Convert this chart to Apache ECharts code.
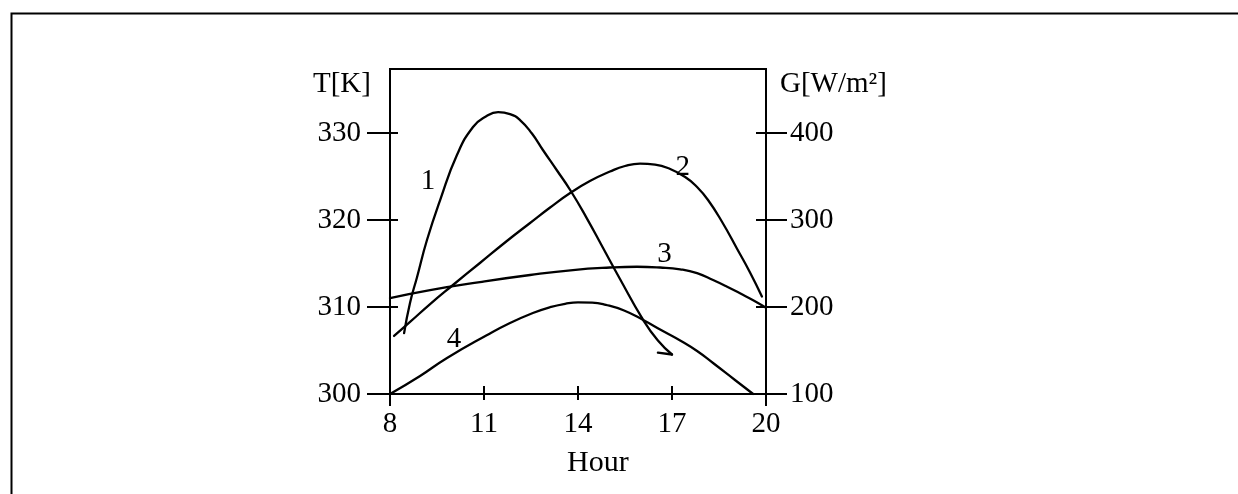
<!DOCTYPE html>
<html>
<head>
<meta charset="utf-8">
<script src="https://cdn.jsdelivr.net/npm/echarts@6/dist/echarts.min.js"></script>
<style>
  html, body { margin: 0; padding: 0; background: #fff; }
  #chart { width: 1238px; height: 494px; }
</style>
</head>
<body>
<div id="chart"></div>
<script>
// Hour of day, temperature T[K] (left axis) and irradiance G[W/m²] (right axis)
const hourTicks = [8, 11, 14, 17, 20];
const hourEdgeTicks = [8, 20];
const tempTicks = [300, 310, 320, 330];
const irrTicks = [100, 200, 300, 400];

// Curve 1: irradiance G [W/m²] against hour
const curve1 = [
  [8.45, 170], [8.64, 205], [8.86, 234], [9.18, 277], [9.60, 323], [10.14, 375],
  [10.65, 407], [11.06, 419], [11.45, 424], [11.83, 421.8], [12.15, 414.9], [12.53, 399.4],
  [12.88, 380.5], [13.33, 356.9], [13.75, 334.5], [14.26, 303.4], [14.80, 267.8], [15.34, 232.2],
  [16.08, 185.1], [16.55, 161.5], [17.0, 145.4]
];
const curve1Hook = [[17.0, 145.4], [16.55, 147.5]];

// Curves 2–4: temperature T [K] against hour
const curve2 = [
  [8.13, 306.67], [8.64, 308.28], [9.28, 310.34], [10.01, 312.53], [10.87, 315.06], [11.73, 317.59],
  [12.47, 319.66], [13.11, 321.44], [13.75, 323.10], [14.38, 324.48], [15.02, 325.57], [15.50, 326.21],
  [15.98, 326.49], [16.46, 326.38], [16.87, 325.98], [17.42, 324.94], [17.80, 323.79], [18.15, 322.30],
  [18.60, 319.77], [19.08, 316.67], [19.49, 313.97], [19.87, 311.21]
];
const curve3 = [
  [8.0, 311.03], [9.28, 311.95], [10.87, 312.87], [12.47, 313.68], [13.84, 314.25], [15.02, 314.54],
  [15.88, 314.63], [16.62, 314.54], [17.26, 314.33], [17.80, 313.89], [18.31, 313.10], [18.76, 312.33],
  [19.17, 311.57], [19.59, 310.78], [20.0, 309.92]
];
const curve4 = [
  [8.0, 300.0], [8.96, 302.07], [9.82, 304.14], [11.10, 306.78], [11.83, 308.16], [12.56, 309.31],
  [13.11, 309.98], [13.59, 310.37], [14.0, 310.54], [14.45, 310.51], [14.89, 310.25], [15.47, 309.60],
  [16.08, 308.51], [16.68, 307.30], [17.26, 306.15], [17.80, 304.94], [18.31, 303.56], [19.01, 301.61],
  [19.59, 300.0]
];

// Curve numbers, anchored in (hour, T) coordinates
const curveTags = [
  { name: '1', value: [9.21, 324.4] },
  { name: '2', value: [17.34, 326.0] },
  { name: '3', value: [16.76, 316.0] },
  { name: '4', value: [10.04, 306.3] }
];

const FONT = 'Liberation Serif';
const FS = 29;
const INK = '#000';

const tRange = { min: 300, max: 337.36, interval: 10 };
const gRange = { min: 100, max: 473.6, interval: 100 };

function lineSeries(data, yAxisIndex, smooth) {
  return {
    type: 'line',
    data: data,
    xAxisIndex: 0,
    yAxisIndex: yAxisIndex,
    smooth: smooth,
    showSymbol: false,
    symbol: 'none',
    silent: true,
    lineStyle: { color: INK, width: 2.3, cap: 'round', join: 'round' },
    z: 3
  };
}

// A value axis used only for extra tick marks (e.g. the inner half of crossing ticks)
function tickOnlyAxis(base, position, ticks, len, inside) {
  return Object.assign({}, base, {
    position: position,
    axisLine: { show: false },
    axisTick: { show: true, inside: inside, length: len, customValues: ticks, lineStyle: { color: INK, width: 2 } },
    axisLabel: { show: false },
    splitLine: { show: false }
  });
}

const hourBase = { type: 'value', min: hourTicks[0], max: hourTicks[hourTicks.length - 1], interval: 3 };
const tBase = { type: 'value', min: tRange.min, max: tRange.max, interval: tRange.interval };
const gBase = { type: 'value', min: gRange.min, max: gRange.max, interval: gRange.interval };

const chart = echarts.init(document.getElementById('chart'), null, { renderer: 'canvas' });

chart.setOption({
  animation: false,
  backgroundColor: '#fff',
  grid: {
    left: 390, right: 472, top: 69, bottom: 100,
    show: true, borderColor: INK, borderWidth: 2, backgroundColor: 'transparent'
  },
  graphic: [
    {
      type: 'rect', left: 9, top: 11, silent: true,
      shape: { x: 0, y: 0, width: 1260, height: 520 },
      style: { fill: 'none', stroke: INK, lineWidth: 2 }
    },
    {
      type: 'text', left: 313, top: 70, silent: true,
      style: { text: 'T[K]', font: FS + 'px "' + FONT + '"', fill: INK }
    },
    {
      type: 'text', left: 780, top: 70, silent: true,
      style: { text: 'G[W/m²]', font: FS + 'px "' + FONT + '"', fill: INK }
    },
    {
      type: 'text', left: 567, top: 448, silent: true,
      style: { text: 'Hour', font: (FS + 1) + 'px "' + FONT + '"', fill: INK }
    }
  ],
  xAxis: [
    Object.assign({}, hourBase, {
      position: 'bottom',
      axisLine: { show: true, lineStyle: { color: INK, width: 2 } },
      axisTick: { show: true, inside: false, length: 6, customValues: hourTicks, lineStyle: { color: INK, width: 2 } },
      axisLabel: { show: true, margin: 16, color: INK, fontFamily: FONT, fontSize: FS, customValues: hourTicks },
      splitLine: { show: false }
    }),
    tickOnlyAxis(hourBase, 'bottom', hourTicks, 8, true),
    tickOnlyAxis(hourBase, 'bottom', hourEdgeTicks, 12, false)
  ],
  yAxis: [
    Object.assign({}, tBase, {
      position: 'left',
      axisLine: { show: true, lineStyle: { color: INK, width: 2 } },
      axisTick: { show: true, inside: false, length: 23, customValues: tempTicks, lineStyle: { color: INK, width: 2 } },
      axisLabel: { show: true, margin: 29, color: INK, fontFamily: FONT, fontSize: FS, customValues: tempTicks },
      splitLine: { show: false }
    }),
    tickOnlyAxis(tBase, 'left', tempTicks, 8, true),
    Object.assign({}, gBase, {
      position: 'right',
      axisLine: { show: true, lineStyle: { color: INK, width: 2 } },
      axisTick: { show: true, inside: false, length: 21, customValues: irrTicks, lineStyle: { color: INK, width: 2 } },
      axisLabel: { show: true, margin: 24, color: INK, fontFamily: FONT, fontSize: FS, customValues: irrTicks },
      splitLine: { show: false }
    }),
    tickOnlyAxis(gBase, 'right', irrTicks, 10, true)
  ],
  series: [
    lineSeries(curve1, 2, 0.5),
    lineSeries(curve1Hook, 2, false),
    lineSeries(curve2, 0, 0.5),
    lineSeries(curve3, 0, 0.5),
    lineSeries(curve4, 0, 0.5),
    {
      type: 'scatter',
      xAxisIndex: 0, yAxisIndex: 0,
      data: curveTags,
      symbolSize: 0,
      itemStyle: { color: INK, opacity: 0 },
      silent: true,
      label: {
        show: true, position: 'inside', formatter: '{b}', opacity: 1,
        color: INK, fontFamily: FONT, fontSize: FS,
        textBorderWidth: 0, textBorderColor: 'transparent'
      },
      z: 4
    }
  ]
});
</script>
</body>
</html>
